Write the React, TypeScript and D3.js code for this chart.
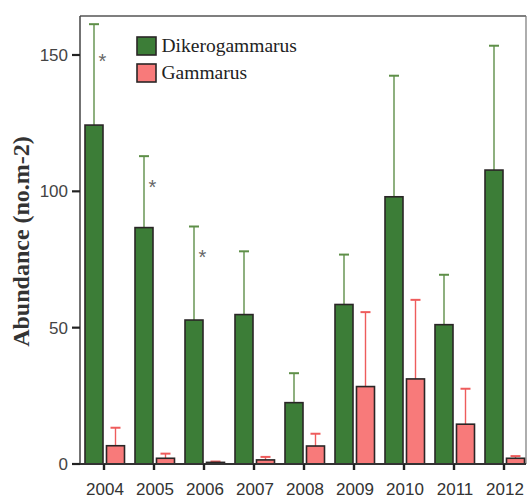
import React from "react";
import * as d3 from "d3";

const years = ["2004", "2005", "2006", "2007", "2008", "2009", "2010", "2011", "2012"];
const dikeroMean = [124.3, 86.7, 52.8, 54.8, 22.5, 58.5, 98.0, 51.1, 107.8];
const dikeroUpper = [161.3, 112.9, 87.1, 78.0, 33.3, 76.8, 142.4, 69.4, 153.4];
const gammarusMean = [6.7, 2.1, 0.6, 1.5, 6.6, 28.4, 31.2, 14.6, 2.1];
const gammarusUpper = [13.3, 3.8, 0.9, 2.6, 11.1, 55.7, 60.2, 27.6, 2.9];
const asteriskYears = ["2004", "2005", "2006"];
const asteriskValues = [149.4, 102.9, 77.3];
const yTicks = [0, 50, 100, 150];
const seriesNames = ["Dikerogammarus", "Gammarus"];

const W = 529;
const H = 498;
const left = 80;
const right = 526;
const top = 16;
const bottom = 464;

const GREEN = "#3c7d37";
const RED = "#f87a7a";
const GREEN_ERR = "#5e8f48";
const RED_ERR = "#ee5c5c";
const STROKE = "#2a2626";

export default function App() {
  const x = d3.scaleBand<string>().domain(years).range([79, 529]).padding(0);
  const y = d3.scaleLinear().domain([0, 164.3]).range([bottom, top]);
  const bw = 18;
  const cx = (yr: string) => (x(yr) as number) + x.bandwidth() / 2;

  return (
    <svg width={W} height={H} style={{ position: "absolute", left: 0, top: 0, background: "#fff" }}>
      {/* frame */}
      <line x1={left} y1={top} x2={right} y2={top} stroke="#555" strokeWidth={1.5} />
      <line x1={right} y1={top} x2={right} y2={bottom} stroke="#777" strokeWidth={1.2} />

      {/* error bars green */}
      {years.map((yr, i) => {
        const xc = cx(yr) - 10;
        return (
          <g key={"ge" + yr}>
            <line x1={xc} x2={xc} y1={y(dikeroMean[i])} y2={y(dikeroUpper[i])} stroke={GREEN_ERR} strokeWidth={1.4} />
            <line x1={xc - 5} x2={xc + 5} y1={y(dikeroUpper[i])} y2={y(dikeroUpper[i])} stroke={GREEN_ERR} strokeWidth={2} />
          </g>
        );
      })}
      {years.map((yr, i) => {
        const xc = cx(yr) + 11.5;
        return (
          <g key={"re" + yr}>
            <line x1={xc} x2={xc} y1={y(gammarusMean[i])} y2={y(gammarusUpper[i])} stroke={RED_ERR} strokeWidth={1.4} />
            <line x1={xc - 5} x2={xc + 5} y1={y(gammarusUpper[i])} y2={y(gammarusUpper[i])} stroke={RED_ERR} strokeWidth={2} />
          </g>
        );
      })}

      {/* bars */}
      {years.map((yr, i) => (
        <rect key={"g" + yr} x={cx(yr) - 19} y={y(dikeroMean[i])} width={bw} height={bottom - y(dikeroMean[i])}
          fill={GREEN} stroke={STROKE} strokeWidth={1.6} />
      ))}
      {years.map((yr, i) => (
        <rect key={"r" + yr} x={cx(yr) + 2.5} y={y(gammarusMean[i])} width={bw} height={bottom - y(gammarusMean[i])}
          fill={RED} stroke={STROKE} strokeWidth={1.6} />
      ))}

      {/* asterisks */}
      {asteriskYears.map((yr, i) => (
        <text key={"a" + yr} x={cx(yr) - 1.5} y={y(asteriskValues[i]) + 11} textAnchor="middle"
          fontFamily="'Liberation Sans', Arial, sans-serif" fontSize={20} fill="#666">*</text>
      ))}

      {/* y axis */}
      <line x1={left} y1={top} x2={left} y2={bottom} stroke="#444" strokeWidth={1.5} />
      {yTicks.map((t) => (
        <g key={"yt" + t}>
          <line x1={72} x2={left} y1={y(t)} y2={y(t)} stroke="#222" strokeWidth={2.2} />
          <text x={68} y={y(t)} dy="0.36em" textAnchor="end" fontFamily="'Liberation Sans', Arial, sans-serif"
            fontSize={17} fill="#444">{t}</text>
        </g>
      ))}

      {/* x axis */}
      <line x1={left} y1={bottom} x2={right} y2={bottom} stroke="#333" strokeWidth={1.8} />
      {years.map((yr) => (
        <g key={"xt" + yr}>
          <line x1={cx(yr)} x2={cx(yr)} y1={bottom} y2={bottom + 6} stroke="#222" strokeWidth={2.4} />
          <text x={cx(yr) + 1} y={495} textAnchor="middle" fontFamily="'Liberation Sans', Arial, sans-serif"
            fontSize={17} fill="#333">{yr}</text>
        </g>
      ))}

      {/* y title */}
      <text transform="translate(28.5,241.5) rotate(-90)" textAnchor="middle"
        fontFamily="'Liberation Serif', 'Times New Roman', serif" fontWeight="bold" fontSize={24} fill="#333">
        Abundance (no.m-2)
      </text>

      {/* legend */}
      {seriesNames.map((name, i) => (
        <g key={"lg" + name} transform={`translate(137,${37 + i * 27})`}>
          <rect x={0} y={0} width={19} height={18} fill={i === 0 ? GREEN : RED} stroke={STROKE} strokeWidth={1.6} />
          <text x={24.5} y={15} fontFamily="'Liberation Serif', 'Times New Roman', serif" fontSize={19.5} fill="#222">
            {name}
          </text>
        </g>
      ))}
    </svg>
  );
}
